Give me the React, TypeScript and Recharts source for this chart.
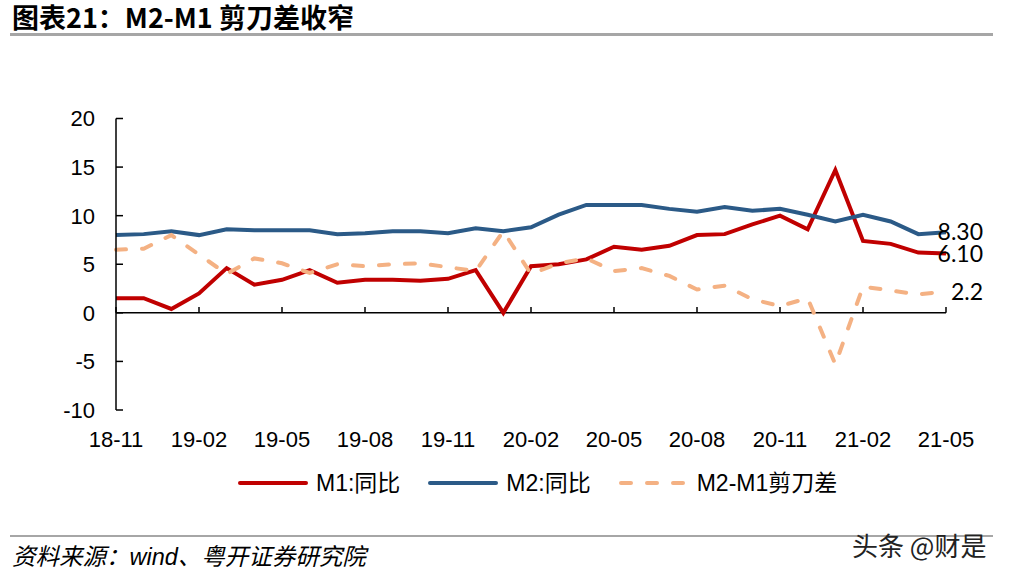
import React from "react";
import {
  LabelList,
  Legend,
  Line,
  LineChart,
  ReferenceLine,
  XAxis,
  YAxis,
} from "recharts";

const months = [
  "18-11", "18-12", "19-01", "19-02", "19-03", "19-04", "19-05", "19-06",
  "19-07", "19-08", "19-09", "19-10", "19-11", "19-12", "20-01", "20-02",
  "20-03", "20-04", "20-05", "20-06", "20-07", "20-08", "20-09", "20-10",
  "20-11", "20-12", "21-01", "21-02", "21-03", "21-04", "21-05",
];

const m1Yoy = [
  1.5, 1.5, 0.4, 2.0, 4.6, 2.9, 3.4, 4.4, 3.1, 3.4, 3.4, 3.3, 3.5, 4.4, 0.0,
  4.8, 5.0, 5.5, 6.8, 6.5, 6.9, 8.0, 8.1, 9.1, 10.0, 8.6, 14.7, 7.4, 7.1, 6.2,
  6.1,
];

const m2Yoy = [
  8.0, 8.1, 8.4, 8.0, 8.6, 8.5, 8.5, 8.5, 8.1, 8.2, 8.4, 8.4, 8.2, 8.7, 8.4,
  8.8, 10.1, 11.1, 11.1, 11.1, 10.7, 10.4, 10.9, 10.5, 10.7, 10.1, 9.4, 10.1,
  9.4, 8.1, 8.3,
];

const scissors = [
  6.5, 6.6, 8.0, 6.0, 4.0, 5.6, 5.1, 4.1, 5.0, 4.8, 5.0, 5.1, 4.7, 4.3, 8.4,
  4.0, 5.1, 5.6, 4.3, 4.6, 3.8, 2.4, 2.8, 1.4, 0.7, 1.5, -5.3, 2.7, 2.3, 1.9,
  2.2,
];

const seriesNames = ["M1:同比", "M2:同比", "M2-M1剪刀差"];
const yTicks = [-10, -5, 0, 5, 10, 15, 20];
const xTickMonths = months.filter((_, i) => i % 3 === 0);

const data = months.map((month, i) => ({
  month,
  m1: m1Yoy[i],
  m2: m2Yoy[i],
  gap: scissors[i],
}));

const RED = "#C00000";
const BLUE = "#2B5A87";
const PEACH = "#F4B183";
const AXIS_FONT = "'Liberation Sans', Arial, sans-serif";
const CJK_FONT = "'Liberation Sans', Arial, 'Noto Sans CJK SC', sans-serif";

function YTick(props: any) {
  const { x, y, payload } = props;
  return (
    <g>
      <line x1={x + 21} x2={x + 28} y1={y} y2={y} stroke="#000" strokeWidth={1.5} />
      <text x={x} y={y} dy="0.36em" textAnchor="end" fontSize={22} fontFamily={AXIS_FONT} fill="#000">
        {payload.value}
      </text>
    </g>
  );
}

function XTick(props: any) {
  const { x, y, payload } = props;
  return (
    <text x={x} y={y} dy="0.71em" textAnchor="middle" fontSize={22} fontFamily={AXIS_FONT} fill="#000">
      {payload.value}
    </text>
  );
}

const endLabel = (digits: number) => (props: any) => {
  if (props.index !== months.length - 1) return null;
  const x = props.x ?? props.viewBox?.x;
  const y = props.y ?? props.viewBox?.y;
  return (
    <text
      x={x + 37}
      y={y}
      dy="0.36em"
      textAnchor="end"
      fontSize={23}
      fontFamily="Lato, 'Open Sans', sans-serif"
      fill="#000"
    >
      {Number(props.value).toFixed(digits)}
    </text>
  );
};

function LegendContent(props: any) {
  const items = [...(props.payload ?? [])].sort(
    (a: any, b: any) => seriesNames.indexOf(a.value) - seriesNames.indexOf(b.value)
  );
  return (
    <div style={{ display: "flex", alignItems: "center", gap: 28 }}>
      {items.map((item: any) => (
        <div key={item.value} style={{ display: "flex", alignItems: "center", gap: 8 }}>
          <svg width={70} height={10}>
            <line
              x1={2}
              x2={68}
              y1={5}
              y2={5}
              stroke={item.color}
              strokeWidth={4}
              strokeLinecap="round"
              strokeDasharray={item.payload?.strokeDasharray}
            />
          </svg>
          <span style={{ fontFamily: CJK_FONT, fontSize: 23, color: "#000", lineHeight: "26px" }}>
            {item.value}
          </span>
        </div>
      ))}
    </div>
  );
}

export default function App() {
  return (
    <div style={{ position: "absolute", left: 0, top: 0, width: 1009, height: 577, background: "#fff" }}>
      <div
        style={{
          position: "absolute",
          left: 12,
          top: 2,
          fontFamily: "'Noto Sans CJK SC', sans-serif",
          fontWeight: 700,
          fontSize: 27,
          lineHeight: "30px",
          color: "#000",
          whiteSpace: "nowrap",
        }}
      >
        图表21：M2-M1 剪刀差收窄
      </div>
      <div style={{ position: "absolute", left: 10, top: 33, width: 983, height: 3, background: "#A6A6A6" }} />

      <div style={{ position: "absolute", left: 0, top: 0 }}>
        <LineChart
          width={1009}
          height={577}
          data={data}
          margin={{ top: 118.5, right: 63, bottom: 127, left: 0 }}
        >
          <XAxis
            dataKey="month"
            interval={2}
            axisLine={false}
            tickLine={false}
            tickSize={0}
            tickMargin={21}
            height={40}
            tick={<XTick />}
          />
          <YAxis
            domain={[-10, 20]}
            ticks={yTicks}
            width={116}
            tickSize={0}
            tickMargin={21}
            tickLine={false}
            axisLine={{ stroke: "#000", strokeWidth: 1.5 }}
            tick={<YTick />}
          />
          <ReferenceLine y={0} stroke="#000" strokeWidth={1.5} />
          {xTickMonths.map((m) => (
            <ReferenceLine
              key={m}
              segment={[
                { x: m, y: 0 },
                { x: m, y: 0.6 },
              ]}
              stroke="#000"
              strokeWidth={1.5}
            />
          ))}
          <Legend
            layout="horizontal"
            verticalAlign="middle"
            align="center"
            content={<LegendContent />}
            wrapperStyle={{ top: 470, left: 238, width: 700, height: 28 }}
          />
          <Line
            name={seriesNames[0]}
            dataKey="m1"
            stroke={RED}
            strokeWidth={4}
            dot={false}
            isAnimationActive={false}
          >
            <LabelList dataKey="m1" content={endLabel(2)} />
          </Line>
          <Line
            name={seriesNames[1]}
            dataKey="m2"
            stroke={BLUE}
            strokeWidth={4}
            dot={false}
            isAnimationActive={false}
          >
            <LabelList dataKey="m2" content={endLabel(2)} />
          </Line>
          <Line
            name={seriesNames[2]}
            dataKey="gap"
            stroke={PEACH}
            strokeWidth={4}
            strokeDasharray="10 16"
            strokeLinecap="round"
            dot={false}
            isAnimationActive={false}
          >
            <LabelList dataKey="gap" content={endLabel(1)} />
          </Line>
        </LineChart>
      </div>

      <div style={{ position: "absolute", left: 10, top: 535, width: 983, height: 2, background: "#A6A6A6" }} />
      <div
        style={{
          position: "absolute",
          left: 12,
          top: 543,
          fontFamily: CJK_FONT,
          fontStyle: "italic",
          fontSize: 23.5,
          lineHeight: "28px",
          color: "#000",
          whiteSpace: "nowrap",
        }}
      >
        资料来源：wind、粤开证券研究院
      </div>
      <div
        style={{
          position: "absolute",
          left: 852,
          top: 530,
          fontFamily: "'Noto Sans CJK SC', sans-serif",
          fontSize: 26,
          lineHeight: "30px",
          color: "#222",
          whiteSpace: "nowrap",
        }}
      >
        头条 @财是
      </div>
    </div>
  );
}
